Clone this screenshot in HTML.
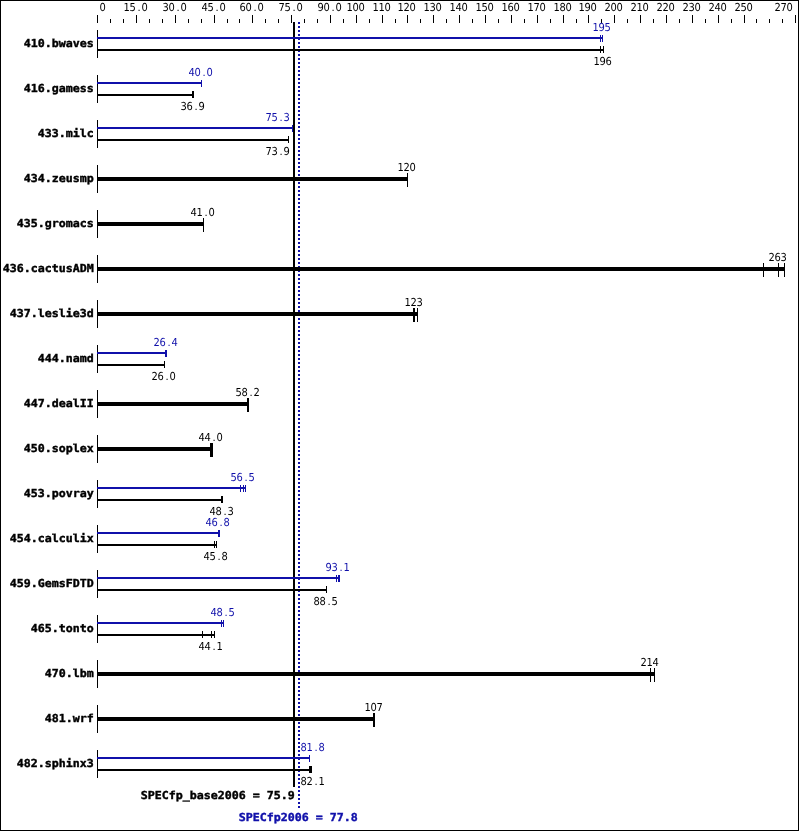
<!DOCTYPE html>
<html><head><meta charset="utf-8"><title>SPECfp2006 results graph</title>
<style>
html,body{margin:0;padding:0;background:#fff;}
svg{display:block;will-change:transform;}
text{white-space:pre;}
.s{font-family:"DejaVu Sans Condensed","DejaVu Sans","Liberation Sans",sans-serif;font-size:11.0px;}
.b{font-family:"DejaVu Sans Mono","Liberation Mono",monospace;font-weight:bold;font-size:11.0px;stroke-width:0.4px;}
</style></head><body>
<svg width="799" height="831" viewBox="0 0 799 831" shape-rendering="crispEdges" text-rendering="geometricPrecision">
<rect x="0" y="0" width="799" height="831" fill="#fff"/>
<rect x="0" y="0" width="799" height="1" fill="#000"/>
<rect x="0" y="830" width="799" height="1" fill="#000"/>
<rect x="0" y="0" width="1" height="831" fill="#000"/>
<rect x="798" y="0" width="1" height="831" fill="#000"/>
<rect x="97" y="15" width="1" height="8" fill="#000"/>
<rect x="110" y="19" width="1" height="4" fill="#000"/>
<rect x="123" y="19" width="1" height="4" fill="#000"/>
<rect x="136" y="15" width="1" height="8" fill="#000"/>
<rect x="149" y="19" width="1" height="4" fill="#000"/>
<rect x="162" y="19" width="1" height="4" fill="#000"/>
<rect x="175" y="15" width="1" height="8" fill="#000"/>
<rect x="188" y="19" width="1" height="4" fill="#000"/>
<rect x="201" y="19" width="1" height="4" fill="#000"/>
<rect x="214" y="15" width="1" height="8" fill="#000"/>
<rect x="227" y="19" width="1" height="4" fill="#000"/>
<rect x="239" y="19" width="1" height="4" fill="#000"/>
<rect x="252" y="15" width="1" height="8" fill="#000"/>
<rect x="265" y="19" width="1" height="4" fill="#000"/>
<rect x="278" y="19" width="1" height="4" fill="#000"/>
<rect x="291" y="15" width="1" height="8" fill="#000"/>
<rect x="304" y="19" width="1" height="4" fill="#000"/>
<rect x="317" y="19" width="1" height="4" fill="#000"/>
<rect x="330" y="15" width="1" height="8" fill="#000"/>
<rect x="343" y="19" width="1" height="4" fill="#000"/>
<rect x="356" y="15" width="1" height="8" fill="#000"/>
<rect x="369" y="19" width="1" height="4" fill="#000"/>
<rect x="382" y="15" width="1" height="8" fill="#000"/>
<rect x="395" y="19" width="1" height="4" fill="#000"/>
<rect x="407" y="15" width="1" height="8" fill="#000"/>
<rect x="420" y="19" width="1" height="4" fill="#000"/>
<rect x="433" y="15" width="1" height="8" fill="#000"/>
<rect x="446" y="19" width="1" height="4" fill="#000"/>
<rect x="459" y="15" width="1" height="8" fill="#000"/>
<rect x="472" y="19" width="1" height="4" fill="#000"/>
<rect x="485" y="15" width="1" height="8" fill="#000"/>
<rect x="498" y="19" width="1" height="4" fill="#000"/>
<rect x="511" y="15" width="1" height="8" fill="#000"/>
<rect x="524" y="19" width="1" height="4" fill="#000"/>
<rect x="537" y="15" width="1" height="8" fill="#000"/>
<rect x="550" y="19" width="1" height="4" fill="#000"/>
<rect x="563" y="15" width="1" height="8" fill="#000"/>
<rect x="576" y="19" width="1" height="4" fill="#000"/>
<rect x="588" y="15" width="1" height="8" fill="#000"/>
<rect x="601" y="19" width="1" height="4" fill="#000"/>
<rect x="614" y="15" width="1" height="8" fill="#000"/>
<rect x="627" y="19" width="1" height="4" fill="#000"/>
<rect x="640" y="15" width="1" height="8" fill="#000"/>
<rect x="653" y="19" width="1" height="4" fill="#000"/>
<rect x="666" y="15" width="1" height="8" fill="#000"/>
<rect x="679" y="19" width="1" height="4" fill="#000"/>
<rect x="692" y="15" width="1" height="8" fill="#000"/>
<rect x="705" y="19" width="1" height="4" fill="#000"/>
<rect x="718" y="15" width="1" height="8" fill="#000"/>
<rect x="731" y="19" width="1" height="4" fill="#000"/>
<rect x="744" y="15" width="1" height="8" fill="#000"/>
<rect x="756" y="19" width="1" height="4" fill="#000"/>
<rect x="769" y="19" width="1" height="4" fill="#000"/>
<rect x="782" y="19" width="1" height="4" fill="#000"/>
<rect x="795" y="15" width="1" height="8" fill="#000"/>
<text class="s" x="99.38" y="11" fill="#000">0</text>
<text class="s" x="123.38 129.38 137.43 141.38" y="11" fill="#000">15.0</text>
<text class="s" x="162.38 168.38 176.43 180.38" y="11" fill="#000">30.0</text>
<text class="s" x="201.38 207.38 215.43 219.38" y="11" fill="#000">45.0</text>
<text class="s" x="239.38 245.38 253.43 257.38" y="11" fill="#000">60.0</text>
<text class="s" x="278.38 284.38 292.43 296.38" y="11" fill="#000">75.0</text>
<text class="s" x="317.38 323.38 331.43 335.38" y="11" fill="#000">90.0</text>
<text class="s" x="346.38 352.38 358.38" y="11" fill="#000">100</text>
<text class="s" x="372.38 378.38 384.38" y="11" fill="#000">110</text>
<text class="s" x="397.38 403.38 409.38" y="11" fill="#000">120</text>
<text class="s" x="423.38 429.38 435.38" y="11" fill="#000">130</text>
<text class="s" x="449.38 455.38 461.38" y="11" fill="#000">140</text>
<text class="s" x="475.38 481.38 487.38" y="11" fill="#000">150</text>
<text class="s" x="501.38 507.38 513.38" y="11" fill="#000">160</text>
<text class="s" x="527.38 533.38 539.38" y="11" fill="#000">170</text>
<text class="s" x="553.38 559.38 565.38" y="11" fill="#000">180</text>
<text class="s" x="578.38 584.38 590.38" y="11" fill="#000">190</text>
<text class="s" x="604.38 610.38 616.38" y="11" fill="#000">200</text>
<text class="s" x="630.38 636.38 642.38" y="11" fill="#000">210</text>
<text class="s" x="656.38 662.38 668.38" y="11" fill="#000">220</text>
<text class="s" x="682.38 688.38 694.38" y="11" fill="#000">230</text>
<text class="s" x="708.38 714.38 720.38" y="11" fill="#000">240</text>
<text class="s" x="734.38 740.38 746.38" y="11" fill="#000">250</text>
<text class="s" x="774.38 780.38 786.38" y="11" fill="#000">270</text>
<rect x="293" y="22" width="2" height="765" fill="#000"/>
<rect x="298" y="22" width="2" height="2" fill="#1010aa"/>
<rect x="298" y="26" width="2" height="2" fill="#1010aa"/>
<rect x="298" y="30" width="2" height="2" fill="#1010aa"/>
<rect x="298" y="34" width="2" height="2" fill="#1010aa"/>
<rect x="298" y="38" width="2" height="2" fill="#1010aa"/>
<rect x="298" y="42" width="2" height="2" fill="#1010aa"/>
<rect x="298" y="46" width="2" height="2" fill="#1010aa"/>
<rect x="298" y="50" width="2" height="2" fill="#1010aa"/>
<rect x="298" y="54" width="2" height="2" fill="#1010aa"/>
<rect x="298" y="58" width="2" height="2" fill="#1010aa"/>
<rect x="298" y="62" width="2" height="2" fill="#1010aa"/>
<rect x="298" y="66" width="2" height="2" fill="#1010aa"/>
<rect x="298" y="70" width="2" height="2" fill="#1010aa"/>
<rect x="298" y="74" width="2" height="2" fill="#1010aa"/>
<rect x="298" y="78" width="2" height="2" fill="#1010aa"/>
<rect x="298" y="82" width="2" height="2" fill="#1010aa"/>
<rect x="298" y="86" width="2" height="2" fill="#1010aa"/>
<rect x="298" y="90" width="2" height="2" fill="#1010aa"/>
<rect x="298" y="94" width="2" height="2" fill="#1010aa"/>
<rect x="298" y="98" width="2" height="2" fill="#1010aa"/>
<rect x="298" y="102" width="2" height="2" fill="#1010aa"/>
<rect x="298" y="106" width="2" height="2" fill="#1010aa"/>
<rect x="298" y="110" width="2" height="2" fill="#1010aa"/>
<rect x="298" y="114" width="2" height="2" fill="#1010aa"/>
<rect x="298" y="118" width="2" height="2" fill="#1010aa"/>
<rect x="298" y="122" width="2" height="2" fill="#1010aa"/>
<rect x="298" y="126" width="2" height="2" fill="#1010aa"/>
<rect x="298" y="130" width="2" height="2" fill="#1010aa"/>
<rect x="298" y="134" width="2" height="2" fill="#1010aa"/>
<rect x="298" y="138" width="2" height="2" fill="#1010aa"/>
<rect x="298" y="142" width="2" height="2" fill="#1010aa"/>
<rect x="298" y="146" width="2" height="2" fill="#1010aa"/>
<rect x="298" y="150" width="2" height="2" fill="#1010aa"/>
<rect x="298" y="154" width="2" height="2" fill="#1010aa"/>
<rect x="298" y="158" width="2" height="2" fill="#1010aa"/>
<rect x="298" y="162" width="2" height="2" fill="#1010aa"/>
<rect x="298" y="166" width="2" height="2" fill="#1010aa"/>
<rect x="298" y="170" width="2" height="2" fill="#1010aa"/>
<rect x="298" y="174" width="2" height="2" fill="#1010aa"/>
<rect x="298" y="178" width="2" height="2" fill="#1010aa"/>
<rect x="298" y="182" width="2" height="2" fill="#1010aa"/>
<rect x="298" y="186" width="2" height="2" fill="#1010aa"/>
<rect x="298" y="190" width="2" height="2" fill="#1010aa"/>
<rect x="298" y="194" width="2" height="2" fill="#1010aa"/>
<rect x="298" y="198" width="2" height="2" fill="#1010aa"/>
<rect x="298" y="202" width="2" height="2" fill="#1010aa"/>
<rect x="298" y="206" width="2" height="2" fill="#1010aa"/>
<rect x="298" y="210" width="2" height="2" fill="#1010aa"/>
<rect x="298" y="214" width="2" height="2" fill="#1010aa"/>
<rect x="298" y="218" width="2" height="2" fill="#1010aa"/>
<rect x="298" y="222" width="2" height="2" fill="#1010aa"/>
<rect x="298" y="226" width="2" height="2" fill="#1010aa"/>
<rect x="298" y="230" width="2" height="2" fill="#1010aa"/>
<rect x="298" y="234" width="2" height="2" fill="#1010aa"/>
<rect x="298" y="238" width="2" height="2" fill="#1010aa"/>
<rect x="298" y="242" width="2" height="2" fill="#1010aa"/>
<rect x="298" y="246" width="2" height="2" fill="#1010aa"/>
<rect x="298" y="250" width="2" height="2" fill="#1010aa"/>
<rect x="298" y="254" width="2" height="2" fill="#1010aa"/>
<rect x="298" y="258" width="2" height="2" fill="#1010aa"/>
<rect x="298" y="262" width="2" height="2" fill="#1010aa"/>
<rect x="298" y="266" width="2" height="2" fill="#1010aa"/>
<rect x="298" y="270" width="2" height="2" fill="#1010aa"/>
<rect x="298" y="274" width="2" height="2" fill="#1010aa"/>
<rect x="298" y="278" width="2" height="2" fill="#1010aa"/>
<rect x="298" y="282" width="2" height="2" fill="#1010aa"/>
<rect x="298" y="286" width="2" height="2" fill="#1010aa"/>
<rect x="298" y="290" width="2" height="2" fill="#1010aa"/>
<rect x="298" y="294" width="2" height="2" fill="#1010aa"/>
<rect x="298" y="298" width="2" height="2" fill="#1010aa"/>
<rect x="298" y="302" width="2" height="2" fill="#1010aa"/>
<rect x="298" y="306" width="2" height="2" fill="#1010aa"/>
<rect x="298" y="310" width="2" height="2" fill="#1010aa"/>
<rect x="298" y="314" width="2" height="2" fill="#1010aa"/>
<rect x="298" y="318" width="2" height="2" fill="#1010aa"/>
<rect x="298" y="322" width="2" height="2" fill="#1010aa"/>
<rect x="298" y="326" width="2" height="2" fill="#1010aa"/>
<rect x="298" y="330" width="2" height="2" fill="#1010aa"/>
<rect x="298" y="334" width="2" height="2" fill="#1010aa"/>
<rect x="298" y="338" width="2" height="2" fill="#1010aa"/>
<rect x="298" y="342" width="2" height="2" fill="#1010aa"/>
<rect x="298" y="346" width="2" height="2" fill="#1010aa"/>
<rect x="298" y="350" width="2" height="2" fill="#1010aa"/>
<rect x="298" y="354" width="2" height="2" fill="#1010aa"/>
<rect x="298" y="358" width="2" height="2" fill="#1010aa"/>
<rect x="298" y="362" width="2" height="2" fill="#1010aa"/>
<rect x="298" y="366" width="2" height="2" fill="#1010aa"/>
<rect x="298" y="370" width="2" height="2" fill="#1010aa"/>
<rect x="298" y="374" width="2" height="2" fill="#1010aa"/>
<rect x="298" y="378" width="2" height="2" fill="#1010aa"/>
<rect x="298" y="382" width="2" height="2" fill="#1010aa"/>
<rect x="298" y="386" width="2" height="2" fill="#1010aa"/>
<rect x="298" y="390" width="2" height="2" fill="#1010aa"/>
<rect x="298" y="394" width="2" height="2" fill="#1010aa"/>
<rect x="298" y="398" width="2" height="2" fill="#1010aa"/>
<rect x="298" y="402" width="2" height="2" fill="#1010aa"/>
<rect x="298" y="406" width="2" height="2" fill="#1010aa"/>
<rect x="298" y="410" width="2" height="2" fill="#1010aa"/>
<rect x="298" y="414" width="2" height="2" fill="#1010aa"/>
<rect x="298" y="418" width="2" height="2" fill="#1010aa"/>
<rect x="298" y="422" width="2" height="2" fill="#1010aa"/>
<rect x="298" y="426" width="2" height="2" fill="#1010aa"/>
<rect x="298" y="430" width="2" height="2" fill="#1010aa"/>
<rect x="298" y="434" width="2" height="2" fill="#1010aa"/>
<rect x="298" y="438" width="2" height="2" fill="#1010aa"/>
<rect x="298" y="442" width="2" height="2" fill="#1010aa"/>
<rect x="298" y="446" width="2" height="2" fill="#1010aa"/>
<rect x="298" y="450" width="2" height="2" fill="#1010aa"/>
<rect x="298" y="454" width="2" height="2" fill="#1010aa"/>
<rect x="298" y="458" width="2" height="2" fill="#1010aa"/>
<rect x="298" y="462" width="2" height="2" fill="#1010aa"/>
<rect x="298" y="466" width="2" height="2" fill="#1010aa"/>
<rect x="298" y="470" width="2" height="2" fill="#1010aa"/>
<rect x="298" y="474" width="2" height="2" fill="#1010aa"/>
<rect x="298" y="478" width="2" height="2" fill="#1010aa"/>
<rect x="298" y="482" width="2" height="2" fill="#1010aa"/>
<rect x="298" y="486" width="2" height="2" fill="#1010aa"/>
<rect x="298" y="490" width="2" height="2" fill="#1010aa"/>
<rect x="298" y="494" width="2" height="2" fill="#1010aa"/>
<rect x="298" y="498" width="2" height="2" fill="#1010aa"/>
<rect x="298" y="502" width="2" height="2" fill="#1010aa"/>
<rect x="298" y="506" width="2" height="2" fill="#1010aa"/>
<rect x="298" y="510" width="2" height="2" fill="#1010aa"/>
<rect x="298" y="514" width="2" height="2" fill="#1010aa"/>
<rect x="298" y="518" width="2" height="2" fill="#1010aa"/>
<rect x="298" y="522" width="2" height="2" fill="#1010aa"/>
<rect x="298" y="526" width="2" height="2" fill="#1010aa"/>
<rect x="298" y="530" width="2" height="2" fill="#1010aa"/>
<rect x="298" y="534" width="2" height="2" fill="#1010aa"/>
<rect x="298" y="538" width="2" height="2" fill="#1010aa"/>
<rect x="298" y="542" width="2" height="2" fill="#1010aa"/>
<rect x="298" y="546" width="2" height="2" fill="#1010aa"/>
<rect x="298" y="550" width="2" height="2" fill="#1010aa"/>
<rect x="298" y="554" width="2" height="2" fill="#1010aa"/>
<rect x="298" y="558" width="2" height="2" fill="#1010aa"/>
<rect x="298" y="562" width="2" height="2" fill="#1010aa"/>
<rect x="298" y="566" width="2" height="2" fill="#1010aa"/>
<rect x="298" y="570" width="2" height="2" fill="#1010aa"/>
<rect x="298" y="574" width="2" height="2" fill="#1010aa"/>
<rect x="298" y="578" width="2" height="2" fill="#1010aa"/>
<rect x="298" y="582" width="2" height="2" fill="#1010aa"/>
<rect x="298" y="586" width="2" height="2" fill="#1010aa"/>
<rect x="298" y="590" width="2" height="2" fill="#1010aa"/>
<rect x="298" y="594" width="2" height="2" fill="#1010aa"/>
<rect x="298" y="598" width="2" height="2" fill="#1010aa"/>
<rect x="298" y="602" width="2" height="2" fill="#1010aa"/>
<rect x="298" y="606" width="2" height="2" fill="#1010aa"/>
<rect x="298" y="610" width="2" height="2" fill="#1010aa"/>
<rect x="298" y="614" width="2" height="2" fill="#1010aa"/>
<rect x="298" y="618" width="2" height="2" fill="#1010aa"/>
<rect x="298" y="622" width="2" height="2" fill="#1010aa"/>
<rect x="298" y="626" width="2" height="2" fill="#1010aa"/>
<rect x="298" y="630" width="2" height="2" fill="#1010aa"/>
<rect x="298" y="634" width="2" height="2" fill="#1010aa"/>
<rect x="298" y="638" width="2" height="2" fill="#1010aa"/>
<rect x="298" y="642" width="2" height="2" fill="#1010aa"/>
<rect x="298" y="646" width="2" height="2" fill="#1010aa"/>
<rect x="298" y="650" width="2" height="2" fill="#1010aa"/>
<rect x="298" y="654" width="2" height="2" fill="#1010aa"/>
<rect x="298" y="658" width="2" height="2" fill="#1010aa"/>
<rect x="298" y="662" width="2" height="2" fill="#1010aa"/>
<rect x="298" y="666" width="2" height="2" fill="#1010aa"/>
<rect x="298" y="670" width="2" height="2" fill="#1010aa"/>
<rect x="298" y="674" width="2" height="2" fill="#1010aa"/>
<rect x="298" y="678" width="2" height="2" fill="#1010aa"/>
<rect x="298" y="682" width="2" height="2" fill="#1010aa"/>
<rect x="298" y="686" width="2" height="2" fill="#1010aa"/>
<rect x="298" y="690" width="2" height="2" fill="#1010aa"/>
<rect x="298" y="694" width="2" height="2" fill="#1010aa"/>
<rect x="298" y="698" width="2" height="2" fill="#1010aa"/>
<rect x="298" y="702" width="2" height="2" fill="#1010aa"/>
<rect x="298" y="706" width="2" height="2" fill="#1010aa"/>
<rect x="298" y="710" width="2" height="2" fill="#1010aa"/>
<rect x="298" y="714" width="2" height="2" fill="#1010aa"/>
<rect x="298" y="718" width="2" height="2" fill="#1010aa"/>
<rect x="298" y="722" width="2" height="2" fill="#1010aa"/>
<rect x="298" y="726" width="2" height="2" fill="#1010aa"/>
<rect x="298" y="730" width="2" height="2" fill="#1010aa"/>
<rect x="298" y="734" width="2" height="2" fill="#1010aa"/>
<rect x="298" y="738" width="2" height="2" fill="#1010aa"/>
<rect x="298" y="742" width="2" height="2" fill="#1010aa"/>
<rect x="298" y="746" width="2" height="2" fill="#1010aa"/>
<rect x="298" y="750" width="2" height="2" fill="#1010aa"/>
<rect x="298" y="754" width="2" height="2" fill="#1010aa"/>
<rect x="298" y="758" width="2" height="2" fill="#1010aa"/>
<rect x="298" y="762" width="2" height="2" fill="#1010aa"/>
<rect x="298" y="766" width="2" height="2" fill="#1010aa"/>
<rect x="298" y="770" width="2" height="2" fill="#1010aa"/>
<rect x="298" y="774" width="2" height="2" fill="#1010aa"/>
<rect x="298" y="778" width="2" height="2" fill="#1010aa"/>
<rect x="298" y="782" width="2" height="2" fill="#1010aa"/>
<rect x="298" y="786" width="2" height="2" fill="#1010aa"/>
<rect x="298" y="790" width="2" height="2" fill="#1010aa"/>
<rect x="298" y="794" width="2" height="2" fill="#1010aa"/>
<rect x="298" y="798" width="2" height="2" fill="#1010aa"/>
<rect x="298" y="802" width="2" height="2" fill="#1010aa"/>
<rect x="298" y="806" width="2" height="2" fill="#1010aa"/>
<rect x="97" y="30" width="1" height="28" fill="#000"/>
<text class="b" x="23.80" y="47" textLength="70" lengthAdjust="spacingAndGlyphs" fill="#000" stroke="#000">410.bwaves</text>
<rect x="97" y="37" width="506" height="2" fill="#1010aa"/>
<rect x="600" y="35" width="1" height="7" fill="#1010aa"/>
<rect x="602" y="35" width="1" height="7" fill="#1010aa"/>
<text class="s" x="592.38 598.38 604.38" y="31" fill="#1010aa">195</text>
<rect x="97" y="49" width="507" height="2" fill="#000"/>
<rect x="600" y="46" width="1" height="7" fill="#000"/>
<rect x="603" y="46" width="1" height="7" fill="#000"/>
<text class="s" x="593.38 599.38 605.38" y="65" fill="#000">196</text>
<rect x="97" y="75" width="1" height="28" fill="#000"/>
<text class="b" x="23.80" y="92" textLength="70" lengthAdjust="spacingAndGlyphs" fill="#000" stroke="#000">416.gamess</text>
<rect x="97" y="82" width="105" height="2" fill="#1010aa"/>
<rect x="201" y="80" width="1" height="7" fill="#1010aa"/>
<text class="s" x="188.38 194.38 202.43 206.38" y="76" fill="#1010aa">40.0</text>
<rect x="97" y="94" width="97" height="2" fill="#000"/>
<rect x="192" y="91" width="1" height="7" fill="#000"/>
<rect x="193" y="91" width="1" height="7" fill="#000"/>
<text class="s" x="180.38 186.38 194.43 198.38" y="110" fill="#000">36.9</text>
<rect x="97" y="120" width="1" height="28" fill="#000"/>
<text class="b" x="37.80" y="137" textLength="56" lengthAdjust="spacingAndGlyphs" fill="#000" stroke="#000">433.milc</text>
<rect x="97" y="127" width="196" height="2" fill="#1010aa"/>
<rect x="292" y="125" width="1" height="7" fill="#1010aa"/>
<text class="s" x="265.38 271.38 279.43 283.38" y="121" fill="#1010aa">75.3</text>
<rect x="97" y="139" width="192" height="2" fill="#000"/>
<rect x="288" y="136" width="1" height="7" fill="#000"/>
<text class="s" x="265.38 271.38 279.43 283.38" y="155" fill="#000">73.9</text>
<rect x="97" y="165" width="1" height="28" fill="#000"/>
<text class="b" x="23.80" y="182" textLength="70" lengthAdjust="spacingAndGlyphs" fill="#000" stroke="#000">434.zeusmp</text>
<rect x="97" y="177" width="311" height="4" fill="#000"/>
<rect x="407" y="173" width="1" height="14" fill="#000"/>
<text class="s" x="397.38 403.38 409.38" y="171" fill="#000">120</text>
<rect x="97" y="210" width="1" height="28" fill="#000"/>
<text class="b" x="16.80" y="227" textLength="77" lengthAdjust="spacingAndGlyphs" fill="#000" stroke="#000">435.gromacs</text>
<rect x="97" y="222" width="107" height="4" fill="#000"/>
<rect x="203" y="218" width="1" height="14" fill="#000"/>
<text class="s" x="190.38 196.38 204.43 208.38" y="216" fill="#000">41.0</text>
<rect x="97" y="255" width="1" height="28" fill="#000"/>
<text class="b" x="2.80" y="272" textLength="91" lengthAdjust="spacingAndGlyphs" fill="#000" stroke="#000">436.cactusADM</text>
<rect x="97" y="267" width="688" height="4" fill="#000"/>
<rect x="763" y="263" width="1" height="14" fill="#000"/>
<rect x="778" y="263" width="1" height="14" fill="#000"/>
<rect x="784" y="263" width="1" height="14" fill="#000"/>
<text class="s" x="768.38 774.38 780.38" y="261" fill="#000">263</text>
<rect x="97" y="300" width="1" height="28" fill="#000"/>
<text class="b" x="9.80" y="317" textLength="84" lengthAdjust="spacingAndGlyphs" fill="#000" stroke="#000">437.leslie3d</text>
<rect x="97" y="312" width="321" height="4" fill="#000"/>
<rect x="413" y="308" width="1" height="14" fill="#000"/>
<rect x="414" y="308" width="1" height="14" fill="#000"/>
<rect x="417" y="308" width="1" height="14" fill="#000"/>
<text class="s" x="404.38 410.38 416.38" y="306" fill="#000">123</text>
<rect x="97" y="345" width="1" height="28" fill="#000"/>
<text class="b" x="37.80" y="362" textLength="56" lengthAdjust="spacingAndGlyphs" fill="#000" stroke="#000">444.namd</text>
<rect x="97" y="352" width="70" height="2" fill="#1010aa"/>
<rect x="165" y="350" width="1" height="7" fill="#1010aa"/>
<rect x="166" y="350" width="1" height="7" fill="#1010aa"/>
<text class="s" x="153.38 159.38 167.43 171.38" y="346" fill="#1010aa">26.4</text>
<rect x="97" y="364" width="68" height="2" fill="#000"/>
<rect x="164" y="361" width="1" height="7" fill="#000"/>
<text class="s" x="151.38 157.38 165.43 169.38" y="380" fill="#000">26.0</text>
<rect x="97" y="390" width="1" height="28" fill="#000"/>
<text class="b" x="23.80" y="407" textLength="70" lengthAdjust="spacingAndGlyphs" fill="#000" stroke="#000">447.dealII</text>
<rect x="97" y="402" width="152" height="4" fill="#000"/>
<rect x="247" y="398" width="1" height="14" fill="#000"/>
<rect x="248" y="398" width="1" height="14" fill="#000"/>
<text class="s" x="235.38 241.38 249.43 253.38" y="396" fill="#000">58.2</text>
<rect x="97" y="435" width="1" height="28" fill="#000"/>
<text class="b" x="23.80" y="452" textLength="70" lengthAdjust="spacingAndGlyphs" fill="#000" stroke="#000">450.soplex</text>
<rect x="97" y="447" width="116" height="4" fill="#000"/>
<rect x="210" y="443" width="1" height="14" fill="#000"/>
<rect x="211" y="443" width="1" height="14" fill="#000"/>
<rect x="212" y="443" width="1" height="14" fill="#000"/>
<text class="s" x="198.38 204.38 212.43 216.38" y="441" fill="#000">44.0</text>
<rect x="97" y="480" width="1" height="28" fill="#000"/>
<text class="b" x="23.80" y="497" textLength="70" lengthAdjust="spacingAndGlyphs" fill="#000" stroke="#000">453.povray</text>
<rect x="97" y="487" width="149" height="2" fill="#1010aa"/>
<rect x="240" y="485" width="1" height="7" fill="#1010aa"/>
<rect x="243" y="485" width="1" height="7" fill="#1010aa"/>
<rect x="245" y="485" width="1" height="7" fill="#1010aa"/>
<text class="s" x="230.38 236.38 244.43 248.38" y="481" fill="#1010aa">56.5</text>
<rect x="97" y="499" width="126" height="2" fill="#000"/>
<rect x="221" y="496" width="1" height="7" fill="#000"/>
<rect x="222" y="496" width="1" height="7" fill="#000"/>
<text class="s" x="209.38 215.38 223.43 227.38" y="515" fill="#000">48.3</text>
<rect x="97" y="525" width="1" height="28" fill="#000"/>
<text class="b" x="9.80" y="542" textLength="84" lengthAdjust="spacingAndGlyphs" fill="#000" stroke="#000">454.calculix</text>
<rect x="97" y="532" width="123" height="2" fill="#1010aa"/>
<rect x="218" y="530" width="1" height="7" fill="#1010aa"/>
<rect x="219" y="530" width="1" height="7" fill="#1010aa"/>
<text class="s" x="205.38 211.38 219.43 223.38" y="526" fill="#1010aa">46.8</text>
<rect x="97" y="544" width="120" height="2" fill="#000"/>
<rect x="214" y="541" width="1" height="7" fill="#000"/>
<rect x="216" y="541" width="1" height="7" fill="#000"/>
<text class="s" x="203.38 209.38 217.43 221.38" y="560" fill="#000">45.8</text>
<rect x="97" y="570" width="1" height="28" fill="#000"/>
<text class="b" x="9.80" y="587" textLength="84" lengthAdjust="spacingAndGlyphs" fill="#000" stroke="#000">459.GemsFDTD</text>
<rect x="97" y="577" width="243" height="2" fill="#1010aa"/>
<rect x="336" y="575" width="1" height="7" fill="#1010aa"/>
<rect x="338" y="575" width="1" height="7" fill="#1010aa"/>
<rect x="339" y="575" width="1" height="7" fill="#1010aa"/>
<text class="s" x="325.38 331.38 339.43 343.38" y="571" fill="#1010aa">93.1</text>
<rect x="97" y="589" width="230" height="2" fill="#000"/>
<rect x="326" y="586" width="1" height="7" fill="#000"/>
<text class="s" x="313.38 319.38 327.43 331.38" y="605" fill="#000">88.5</text>
<rect x="97" y="615" width="1" height="28" fill="#000"/>
<text class="b" x="30.80" y="632" textLength="63" lengthAdjust="spacingAndGlyphs" fill="#000" stroke="#000">465.tonto</text>
<rect x="97" y="622" width="127" height="2" fill="#1010aa"/>
<rect x="221" y="620" width="1" height="7" fill="#1010aa"/>
<rect x="223" y="620" width="1" height="7" fill="#1010aa"/>
<text class="s" x="210.38 216.38 224.43 228.38" y="616" fill="#1010aa">48.5</text>
<rect x="97" y="634" width="118" height="2" fill="#000"/>
<rect x="202" y="631" width="1" height="7" fill="#000"/>
<rect x="211" y="631" width="1" height="7" fill="#000"/>
<rect x="214" y="631" width="1" height="7" fill="#000"/>
<text class="s" x="198.38 204.38 212.43 216.38" y="650" fill="#000">44.1</text>
<rect x="97" y="660" width="1" height="28" fill="#000"/>
<text class="b" x="44.80" y="677" textLength="49" lengthAdjust="spacingAndGlyphs" fill="#000" stroke="#000">470.lbm</text>
<rect x="97" y="672" width="558" height="4" fill="#000"/>
<rect x="650" y="668" width="1" height="14" fill="#000"/>
<rect x="654" y="668" width="1" height="14" fill="#000"/>
<text class="s" x="640.38 646.38 652.38" y="666" fill="#000">214</text>
<rect x="97" y="705" width="1" height="28" fill="#000"/>
<text class="b" x="44.80" y="722" textLength="49" lengthAdjust="spacingAndGlyphs" fill="#000" stroke="#000">481.wrf</text>
<rect x="97" y="717" width="278" height="4" fill="#000"/>
<rect x="373" y="713" width="1" height="14" fill="#000"/>
<rect x="374" y="713" width="1" height="14" fill="#000"/>
<text class="s" x="364.38 370.38 376.38" y="711" fill="#000">107</text>
<rect x="97" y="750" width="1" height="28" fill="#000"/>
<text class="b" x="16.80" y="767" textLength="77" lengthAdjust="spacingAndGlyphs" fill="#000" stroke="#000">482.sphinx3</text>
<rect x="97" y="757" width="213" height="2" fill="#1010aa"/>
<rect x="309" y="755" width="1" height="7" fill="#1010aa"/>
<text class="s" x="300.38 306.38 314.43 318.38" y="751" fill="#1010aa">81.8</text>
<rect x="97" y="769" width="215" height="2" fill="#000"/>
<rect x="309" y="766" width="1" height="7" fill="#000"/>
<rect x="310" y="766" width="1" height="7" fill="#000"/>
<rect x="311" y="766" width="1" height="7" fill="#000"/>
<text class="s" x="300.38 306.38 314.43 318.38" y="785" fill="#000">82.1</text>
<text class="b" x="140.80" y="799" textLength="154" lengthAdjust="spacingAndGlyphs" fill="#000" stroke="#000">SPECfp_base2006 = 75.9</text>
<text class="b" x="238.80" y="821" textLength="119" lengthAdjust="spacingAndGlyphs" fill="#1010aa" stroke="#1010aa">SPECfp2006 = 77.8</text>
</svg>
</body></html>
